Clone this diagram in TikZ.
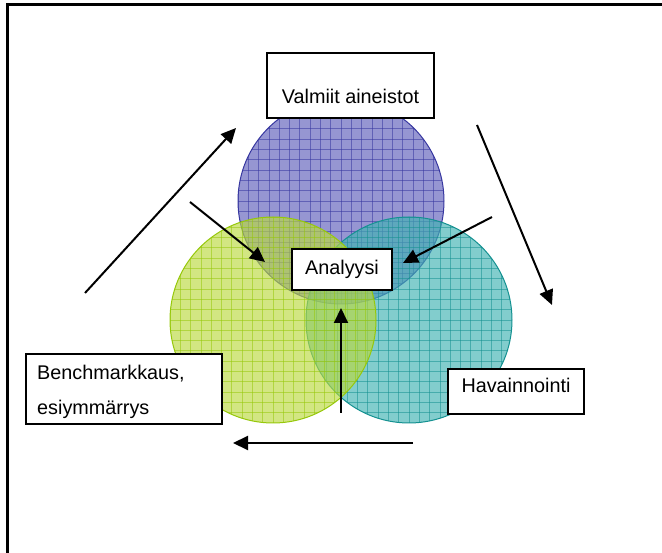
\documentclass[tikz,border=0pt]{standalone}
\usepackage{fontspec}
\setmainfont{Liberation Sans}
\usetikzlibrary{arrows.meta,calc}

% fill colours of the three circles (drawn at reduced opacity)
\definecolor{vblue}{RGB}{94,94,186}
\definecolor{vbluel}{RGB}{55,55,160}
\definecolor{vgreen}{RGB}{186,217,63}
\definecolor{vgreenl}{RGB}{150,200,10}
\definecolor{vteal}{RGB}{63,178,178}
\definecolor{vteall}{RGB}{20,145,145}

\tikzset{
  box/.style={draw=black, line width=2pt, fill=white, inner sep=0pt},
  lbl/.style={font=\fontsize{19.8}{23}\selectfont, inner sep=0pt},
  flow/.style={line width=2pt, -{Triangle[length=15pt,width=14pt]}},
  frame/.style={line width=3pt, line cap=rect},
  gridline/.style={line width=0.8pt, opacity=0.55},
}

% a circle filled with a translucent colour and a fine grid of lines
\newcommand{\gridcircle}[5]{% centre x, centre y, radius, fill, line colour
  \begin{scope}
    \clip (#1,#2) circle (#3);
    \fill[#4, fill opacity=0.65] (#1,#2) circle (#3);
    \foreach \k in {-11,...,11}{
      \draw[#5, gridline] ({#1+10.3*\k},{#2-#3-5}) -- ({#1+10.3*\k},{#2+#3+5});
      \draw[#5, gridline] ({#1-#3-5},{#2+10.3*\k}) -- ({#1+#3+5},{#2+10.3*\k});
    }
  \end{scope}
  \draw[#5, line width=1pt] (#1,#2) circle (#3);
}

\begin{document}
\begin{tikzpicture}[x=1pt, y=-1pt]
  \useasboundingbox (0,0) rectangle (662,553);

  % page frame (top and left edges)
  \draw[frame] (7,553) -- (7,5) -- (662,5);

  % overlapping circles
  \gridcircle{341}{201}{103}{vblue}{vbluel}
  \gridcircle{409}{320}{103}{vteal}{vteall}
  \gridcircle{273}{320}{103}{vgreen}{vgreenl}

  % labelled boxes
  \node[box, lbl, anchor=north west, minimum width=167, text height=51, text depth=14]
    (valmiit) at (266,52) {Valmiit aineistot};
  \node[box, lbl, anchor=north west, minimum width=100, minimum height=41]
    (analyysi) at (291,248) {Analyysi};
  \node[box, anchor=north west, minimum width=196, minimum height=70]
    (bench) at (25,353) {};
  \node[lbl, anchor=base west] (bench1) at (37,380) {Benchmarkkaus,};
  \node[lbl, anchor=base west] (bench2) at (37,415) {esiymm\"arrys};
  \node[box, lbl, anchor=north west, minimum width=136, text height=24, text depth=21]
    (havain) at (447,368) {Havainnointi};

  % arrow end points
  \coordinate (a1s) at (85,293);
  \coordinate (a1e) at (236,128);
  \coordinate (a2s) at (477,125);
  \coordinate (a2e) at (552,305);
  \coordinate (a3s) at (413,443);
  \coordinate (a3e) at (233,443);
  \coordinate (a4s) at (190,202);
  \coordinate (a4e) at (265,262);
  \coordinate (a5s) at (492,217);
  \coordinate (a5e) at (403,263);
  \coordinate (a6s) at (341,413);
  \coordinate (a6e) at (341,308);

  % cycle around the circles
  \draw[flow] (a1s) -- (a1e);
  \draw[flow] (a2s) -- (a2e);
  \draw[flow] (a3s) -- (a3e);

  % inward arrows towards the analysis
  \draw[flow] (a4s) -- (a4e);
  \draw[flow] (a5s) -- (a5e);
  \draw[flow] (a6s) -- (a6e);
\end{tikzpicture}
\end{document}
